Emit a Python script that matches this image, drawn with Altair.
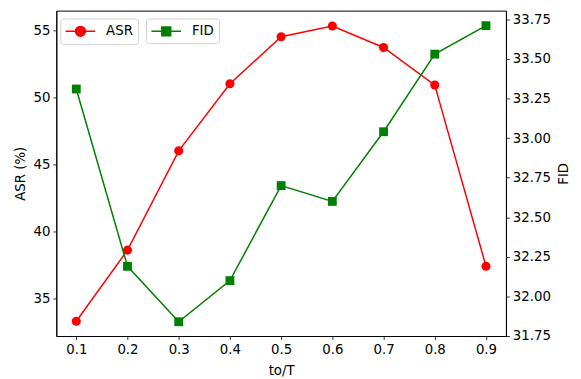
import altair as alt
import pandas as pd

x_vals = [0.1, 0.2, 0.3, 0.4, 0.5, 0.6, 0.7, 0.8, 0.9]
asr_vals = [33.3, 38.6, 46.0, 51.0, 54.5, 55.3, 53.7, 50.9, 37.4]
fid_vals = [33.31, 32.19, 31.84, 32.10, 32.70, 32.60, 33.04, 33.53, 33.71]
x_ticks = [0.1, 0.2, 0.3, 0.4, 0.5, 0.6, 0.7, 0.8, 0.9]
asr_ticks = [35, 40, 45, 50, 55]
fid_ticks = [31.75, 32.0, 32.25, 32.5, 32.75, 33.0, 33.25, 33.5, 33.75]

df = pd.DataFrame({"x": x_vals, "ASR": asr_vals, "FID": fid_vals,
                   "s1": ["ASR"] * len(x_vals), "s2": ["FID"] * len(x_vals)})

RED = "#ff0000"
GREEN = "#008000"
FONT = "DejaVu Sans"

circle_path = "M-1,0H3M1.667,0A0.667,0.667 0 1,1 0.333,0A0.667,0.667 0 1,1 1.667,0Z"
square_path = "M-1,0H3M0.4,-0.6H1.6V0.6H0.4Z"

def legend(path, color, lx):
    return alt.Legend(
        title=None, orient="none", legendX=lx, legendY=8,
        symbolType=path, symbolSize=225, symbolStrokeWidth=1.5,
        symbolFillColor=color, symbolStrokeColor=color,
        labelFont=FONT, labelFontSize=13.5, labelColor="black", labelOffset=25,
        strokeColor="#d0d0d0", fillColor="white", cornerRadius=3,
        padding=4.5,
    )

xenc = alt.X("x:Q", scale=alt.Scale(domain=[0.061, 0.939], nice=False, zero=False),
             axis=alt.Axis(values=x_ticks, format=".1f", title="to/T", titlePadding=8))

asr = alt.Chart(df).mark_line(
    strokeWidth=1.5,
    point=alt.OverlayMarkDef(filled=True, shape="circle", size=85, color=RED, opacity=1),
).encode(
    x=xenc,
    y=alt.Y("ASR:Q", scale=alt.Scale(domain=[32.2, 56.45], nice=False, zero=False),
            axis=alt.Axis(values=asr_ticks, title="ASR (%)", orient="left", titlePadding=6)),
    color=alt.Color("s1:N", scale=alt.Scale(domain=["ASR"], range=[RED]),
                    legend=legend(circle_path, RED, 4)),
)

fid = alt.Chart(df).mark_line(
    strokeWidth=1.5,
    point=alt.OverlayMarkDef(filled=True, shape="square", size=80, color=GREEN, opacity=1),
).encode(
    x=xenc,
    y=alt.Y("FID:Q", scale=alt.Scale(domain=[31.75, 33.805], nice=False, zero=False),
            axis=alt.Axis(values=fid_ticks, format=".2f", title="FID", orient="right",
                          titleAngle=270, titlePadding=6, titleBaseline="top")),
    color=alt.Color("s2:N", scale=alt.Scale(domain=["FID"], range=[GREEN]),
                    legend=legend(square_path, GREEN, 91)),
)

chart = alt.layer(asr, fid).resolve_scale(
    y="independent", color="independent"
).resolve_legend(color="independent").properties(
    width=456, height=330,
    autosize=alt.AutoSizeParams(type="none"),
    padding={"left": 49, "top": 0, "right": 68, "bottom": 45},
).configure_view(
    stroke="black", strokeWidth=1
).configure_axis(
    grid=False, domainColor="black", domainWidth=1, tickColor="black",
    tickSize=3.5, tickWidth=0.8, labelFont=FONT, labelFontSize=13.5,
    labelColor="black", labelPadding=3, titleFont=FONT, titleFontSize=13.5,
    titleFontWeight="normal", titleColor="black", titlePadding=5,
)

chart.save("out.html", embed_options={"renderer": "svg", "actions": False})
